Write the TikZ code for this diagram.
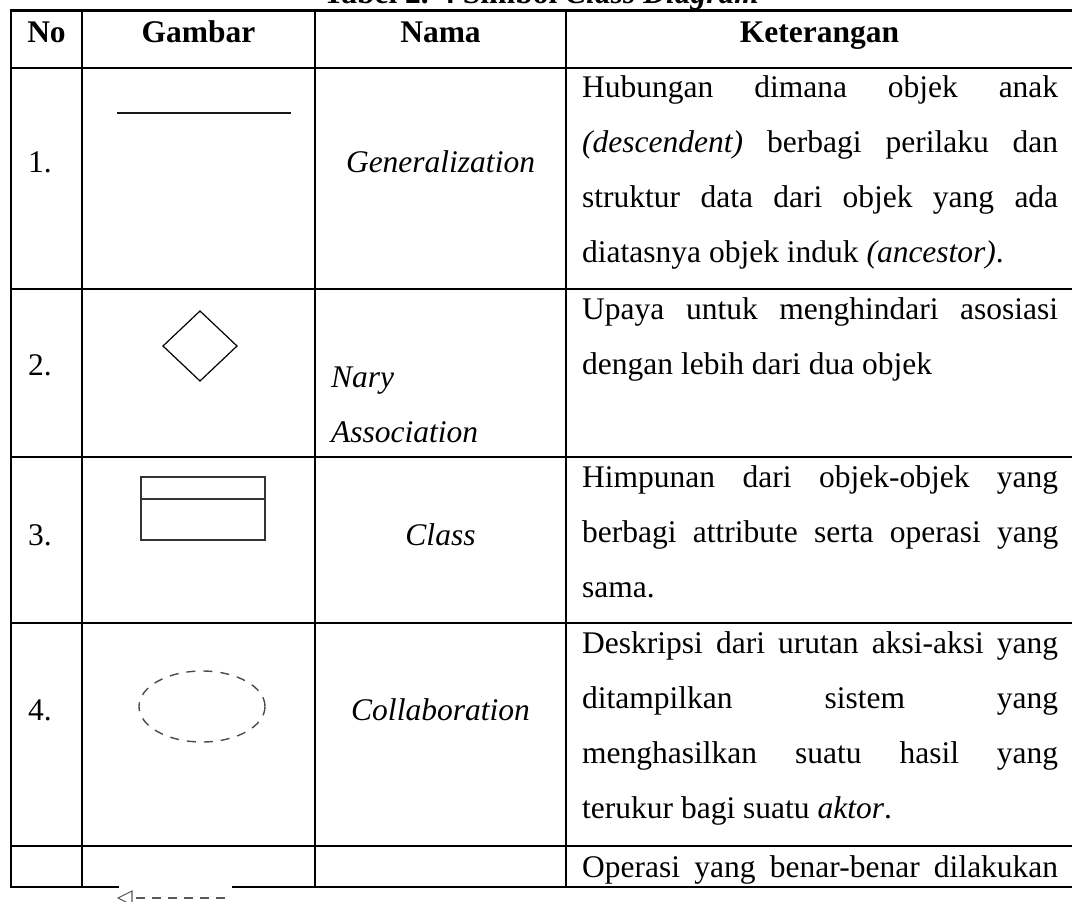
\documentclass[tikz,border=0pt]{standalone}
\usepackage{fontspec}
\setmainfont{Liberation Serif}
\newcommand\fullline[1]{\makebox[476pt][s]{#1}}
\begin{document}
\begin{tikzpicture}[x=1pt,y=-1pt,
  rule/.style={line width=2.6pt, black, line cap=rect},
  body/.style={inner sep=0pt, anchor=base west, font=\fontsize{31.5}{55}\selectfont},
  mid/.style={inner sep=0pt, anchor=base, font=\fontsize{31.5}{55}\selectfont},
  head/.style={inner sep=0pt, anchor=base, font=\fontsize{31.5}{55}\selectfont\bfseries},
  sym/.style={line width=1.4pt, black!85},
]
\clip (0,0) rectangle (1072,902);
\fill[white] (0,0) rectangle (1072,902);

% caption
\node[head] (caption) at (541,4) {Tabel 2. 4 Simbol \textit{Class Diagram}};

% table rules
\foreach \y in {10.5,68,289,457,623,846}
  \draw[rule] (11,\y) -- (1080,\y);
\draw[rule] (11,887) -- (118,887);
\draw[rule] (233,887) -- (1080,887);
\foreach \x in {11,82,315,566}
  \draw[rule] (\x,10.5) -- (\x,887);

% header
\node[head] (hNo) at (46.5,42) {No};
\node[head] (hGambar) at (198.5,42) {Gambar};
\node[head] (hNama) at (440.5,42) {Nama};
\node[head] (hKet) at (819.5,42) {Keterangan};

% numbers
\node[body] (n1) at (28,172) {1.};
\node[body] (n2) at (28,375) {2.};
\node[body] (n3) at (28,545) {3.};
\node[body] (n4) at (28,720) {4.};

% symbols
\draw[line width=2.2pt, black!90] (117,113) -- (291,113);
\draw[line width=1.2pt, black] (163,346) -- (200,311) -- (237,346) -- (200,381) -- cycle;
\draw[sym, black!80] (141,477) rectangle (265,540);
\draw[sym, black!80] (141,499) -- (265,499);
\draw[line width=1.4pt, black!70, dash pattern=on 9pt off 8pt] (202,706.5) ellipse [x radius=63, y radius=35.5];
\draw[line width=1.1pt, black!65] (132,891) -- (118,898) -- (132,905) -- cycle;
\draw[line width=1.1pt, black!65, dash pattern=on 9pt off 7pt] (136,898) -- (228,898);

% names
\node[mid] (m1) at (440.5,172) {\textit{Generalization}};
\node[body] (m2a) at (331,387) {\textit{Nary}};
\node[body] (m2b) at (331,442) {\textit{Association}};
\node[mid] (m3) at (440.5,545) {\textit{Class}};
\node[mid] (m4) at (440.5,720) {\textit{Collaboration}};

% descriptions
\node[body] (d1a) at (582,97)  {\fullline{Hubungan dimana objek anak}};
\node[body] (d1b) at (582,152) {\fullline{\textit{(descendent)} berbagi perilaku dan}};
\node[body] (d1c) at (582,207) {\fullline{struktur data dari objek yang ada}};
\node[body] (d1d) at (582,262) {diatasnya objek induk \textit{(ancestor)}.};

\node[body] (d2a) at (582,319) {\fullline{Upaya untuk menghindari asosiasi}};
\node[body] (d2b) at (582,374) {dengan lebih dari dua objek};

\node[body] (d3a) at (582,487) {\fullline{Himpunan dari objek-objek yang}};
\node[body] (d3b) at (582,542) {\fullline{berbagi attribute serta operasi yang}};
\node[body] (d3c) at (582,597) {sama.};

\node[body] (d4a) at (582,653) {\fullline{Deskripsi dari urutan aksi-aksi yang}};
\node[body] (d4b) at (582,708) {\fullline{ditampilkan sistem yang}};
\node[body] (d4c) at (582,763) {\fullline{menghasilkan suatu hasil yang}};
\node[body] (d4d) at (582,818) {terukur bagi suatu \textit{aktor}.};

\node[body] (d5a) at (582,877) {\fullline{Operasi yang benar-benar dilakukan}};
\end{tikzpicture}
\end{document}
